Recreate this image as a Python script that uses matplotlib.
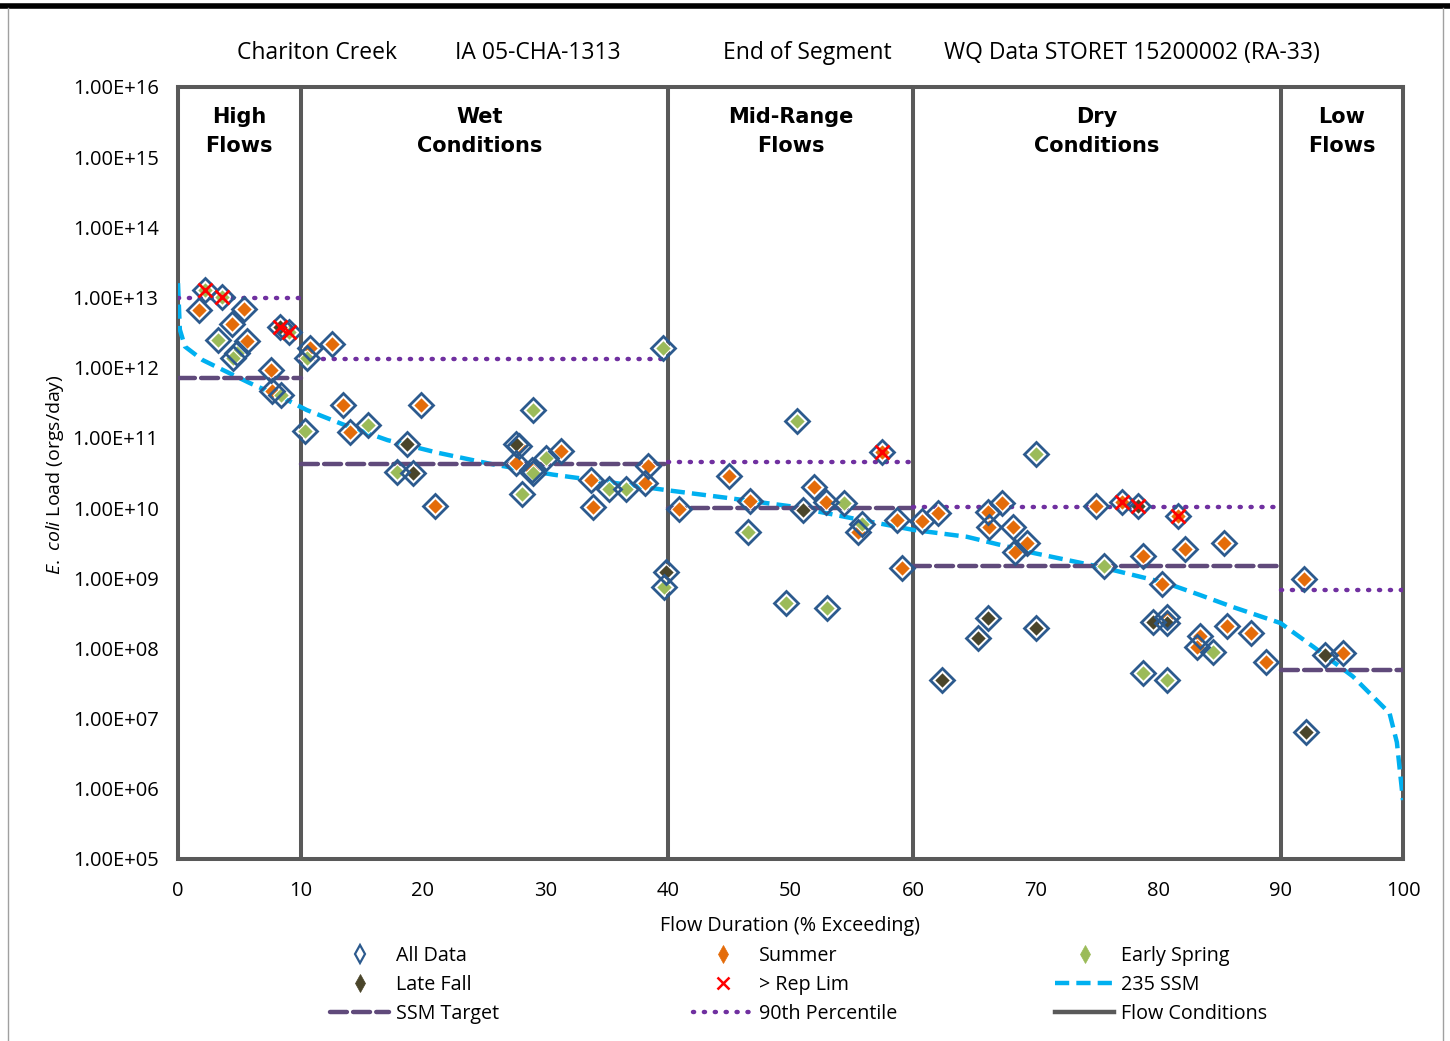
import matplotlib
matplotlib.use("Agg")
import matplotlib.pyplot as plt
from matplotlib.lines import Line2D
import numpy as np

plt.rcParams['font.family'] = ['Open Sans', 'DejaVu Sans']
plt.rcParams['mathtext.fontset'] = 'custom'
plt.rcParams['mathtext.it'] = 'Open Sans:italic'
plt.rcParams['mathtext.rm'] = 'Open Sans'

# ---------------- data ----------------
summer_x = [1.7, 5.4, 4.4, 5.6, 10.8, 12.6, 7.6, 7.7, 13.5, 14.0, 19.8, 21.0, 27.8, 27.6, 28.9,
            31.3, 33.7, 33.9, 38.1, 38.4, 40.9, 45.0, 46.7, 51.9, 52.9, 55.5, 58.7, 59.1, 57.5,
            60.7, 62.0, 66.1, 67.3, 66.2, 68.2, 69.3, 68.3, 74.9, 77.1, 81.6, 78.8, 82.2, 80.3,
            85.4, 80.7, 83.4, 83.2, 85.6, 87.6, 88.8, 91.9, 95.1]
summer_y = [6.6e12, 6.9e12, 4.2e12, 2.4e12, 1.9e12, 2.2e12, 9.3e11, 4.6e11, 2.9e11, 1.2e11, 2.9e11,
            1.07e10, 7.6e10, 4.4e10, 3.5e10, 6.5e10, 2.5e10, 1.05e10, 2.3e10, 4.0e10, 9.8e9, 2.9e10,
            1.26e10, 2.0e10, 1.23e10, 4.5e9, 6.8e9, 1.4e9, 6.2e10, 6.6e9, 8.5e9, 8.9e9, 1.17e10,
            5.4e9, 5.4e9, 3.2e9, 2.4e9, 1.07e10, 1.23e10, 7.8e9, 2.1e9, 2.6e9, 8.3e8, 3.2e9, 2.8e8,
            1.5e8, 1.05e8, 2.1e8, 1.66e8, 6.5e7, 9.8e8, 8.7e7]

spring_x = [2.2, 3.6, 3.3, 4.8, 4.5, 9.1, 10.5, 8.4, 10.4, 15.5, 17.9, 29.0, 39.6, 29.0, 30.0, 28.1,
            35.2, 36.6, 39.7, 50.5, 46.5, 54.4, 55.8, 49.6, 53.0, 70.0, 75.6, 84.5, 78.8, 80.7]
spring_y = [1.3e13, 1.02e13, 2.5e12, 1.6e12, 1.38e12, 3.2e12, 1.38e12, 4.1e11, 1.26e11, 1.55e11,
            3.3e10, 2.5e11, 1.9e12, 3.2e10, 5.1e10, 1.6e10, 1.86e10, 1.86e10, 7.6e8, 1.74e11, 4.6e9,
            1.17e10, 6.0e9, 4.5e8, 3.8e8, 5.9e10, 1.5e9, 8.9e7, 4.5e7, 3.5e7]

fall_x = [8.3, 18.7, 19.2, 27.6, 39.8, 51.0, 66.1, 65.3, 70.0, 62.4, 78.4, 79.6, 80.7, 93.6, 92.1]
fall_y = [3.8e12, 8.1e10, 3.2e10, 8.3e10, 1.23e9, 9.3e9, 2.75e8, 1.4e8, 1.95e8, 3.5e7, 1.07e10,
          2.4e8, 2.3e8, 8.1e7, 6.5e6]

replim_x = [2.2, 3.6, 8.3, 9.1, 57.5, 77.1, 78.4, 81.6]
replim_y = [1.3e13, 1.02e13, 3.8e12, 3.2e12, 6.2e10, 1.23e10, 1.07e10, 7.8e9]

ssm235_x = [0, 0.15, 0.57, 2.0, 4.0, 5.9, 8.6, 10.5, 13.5, 17.1, 21.1, 25.7, 30.6, 35.5, 39.9,
            44.8, 50.2, 55.7, 60.0, 64.4, 69.8, 75.3, 80.7, 83.4, 86.1, 90.0, 92.7, 95.9, 98.9,
            99.5, 100]
ssm235_y = [1.6e13, 3.5e12, 2.0e12, 1.29e12, 8.7e11, 6.0e11, 3.7e11, 2.5e11, 1.55e11, 9.3e10,
            6.2e10, 4.2e10, 3.0e10, 2.3e10, 1.8e10, 1.4e10, 1.05e10, 6.8e9, 4.9e9, 3.9e9, 2.3e9,
            1.45e9, 8.5e8, 5.8e8, 3.9e8, 2.3e8, 1.05e8, 4.0e7, 1.2e7, 4.6e6, 6.9e5]

zone_edges = [0, 10, 40, 60, 90, 100]
zone_names = ["High\nFlows", "Wet\nConditions", "Mid-Range\nFlows", "Dry\nConditions", "Low\nFlows"]
ssm_target = [7.1e11, 4.3e10, 1.0e10, 1.5e9, 5.0e7]
pct90 = [1.0e13, 1.35e12, 4.6e10, 1.05e10, 6.8e8]

xticks = [0, 10, 20, 30, 40, 50, 60, 70, 80, 90, 100]
yticks = [1e5, 1e6, 1e7, 1e8, 1e9, 1e10, 1e11, 1e12, 1e13, 1e14, 1e15, 1e16]
ytick_labels = ["1.00E+05", "1.00E+06", "1.00E+07", "1.00E+08", "1.00E+09", "1.00E+10",
                "1.00E+11", "1.00E+12", "1.00E+13", "1.00E+14", "1.00E+15", "1.00E+16"]

title_parts = ["Chariton Creek", "IA 05-CHA-1313", "End of Segment", "WQ Data STORET 15200002 (RA-33)"]

# ---------------- colours ----------------
C_SUMMER = '#E46C0A'
C_SPRING = '#9BBB59'
C_FALL = '#4A452A'
C_ALL = '#2C5A8E'
C_SSM = '#00B0F0'
C_TARGET = '#604A7B'
C_P90 = '#7030A0'
C_FLOW = '#595959'

DASH_T = (0, (3.8, 1.4))
DASH_S = (0, (3.2, 1.6))
DOT_P = (0, (0.25, 2.2))

W, H = 1450, 1041
fig = plt.figure(figsize=(W / 100, H / 100), dpi=100)
ax = fig.add_axes([178 / W, 1 - 859 / H, 1225 / W, 772 / H])
ax.set_yscale('log')
ax.set_xlim(0, 100)
ax.set_ylim(1e5, 1e16)

# 235 SSM curve
ax.plot(ssm235_x, ssm235_y, color=C_SSM, lw=3.2, ls=DASH_S, zorder=3)

# SSM Target and 90th percentile per zone
for i in range(len(zone_names)):
    x0, x1 = zone_edges[i], zone_edges[i + 1]
    ax.plot([x0, x1], [ssm_target[i], ssm_target[i]], color=C_TARGET, lw=3.2,
            ls=DASH_T, zorder=3, dash_capstyle='round')
    ax.plot([x0, x1], [pct90[i], pct90[i]], color=C_P90, lw=3.2,
            ls=DOT_P, dash_capstyle='round', zorder=3)

# flow condition lines
for xe in zone_edges[1:-1]:
    ax.plot([xe, xe], [1e5, 1e16], color=C_FLOW, lw=2.9, zorder=2)
for sp in ax.spines.values():
    sp.set_color(C_FLOW)
    sp.set_linewidth(2.9)

# seasonal points
ax.plot(summer_x, summer_y, ls='none', marker='D', ms=8.3, mfc=C_SUMMER, mec='white', mew=0.8, zorder=4)
ax.plot(spring_x, spring_y, ls='none', marker='D', ms=8.3, mfc=C_SPRING, mec='white', mew=0.8, zorder=4)
ax.plot(fall_x, fall_y, ls='none', marker='D', ms=8.3, mfc=C_FALL, mec='white', mew=0.8, zorder=4)
all_x = summer_x + spring_x + fall_x
all_y = summer_y + spring_y + fall_y
ax.plot(all_x, all_y, ls='none', marker='D', ms=12.5, mfc='none', mec=C_ALL, mew=2.0, zorder=5)
ax.plot(replim_x, replim_y, ls='none', marker='x', ms=9.5, mec='#FF0000', mew=2.0, zorder=6)

# zone labels
for i, name in enumerate(zone_names):
    xc = (zone_edges[i] + zone_edges[i + 1]) / 2
    if i == 1:
        xc = 24.6
    ax.text(xc, (859 - 107) / 772, name, transform=ax.get_xaxis_transform(), ha='center', va='top',
            fontsize=15, fontweight='bold', family='DejaVu Sans', linespacing=1.55, color='black')

# ticks
ax.set_xticks(xticks)
ax.set_xticklabels([str(v) for v in xticks])
ax.set_yticks(yticks)
ax.set_yticklabels(ytick_labels)
ax.minorticks_off()
ax.tick_params(axis='both', length=0, labelsize=14.5, colors='black')
ax.tick_params(axis='x', pad=16)
ax.tick_params(axis='y', pad=14)

ax.set_xlabel("Flow Duration (% Exceeding)", fontsize=14.2, labelpad=11)
fig.text(55 / W, 1 - 475 / H, r"$\it{E.\ coli}$ Load (orgs/day)", rotation=90, ha='center',
         va='center', fontsize=14)

# title parts
title_x = [237, 455, 723, 944]
for tx, tt in zip(title_x, title_parts):
    fig.text(tx / W, 1 - 53 / H, tt, ha='left', va='center', fontsize=16.5)

# outer frame decorations
fig.add_artist(Line2D([0, 1], [1 - 5.5 / H, 1 - 5.5 / H], transform=fig.transFigure, color='black', lw=4))
fig.add_artist(Line2D([8 / W, 8 / W], [0, 1 - 8 / H], transform=fig.transFigure, color='#A0A0A0', lw=1))
fig.add_artist(Line2D([1443 / W, 1443 / W], [0, 1 - 8 / H], transform=fig.transFigure, color='#A0A0A0', lw=1))

# legend (3 columns placed separately)
def mk(marker, fc, ec, ms=9, mew=1.5):
    return Line2D([], [], ls='none', marker=marker, ms=ms, mfc=fc, mec=ec, mew=mew)

h_all = mk('d', 'none', C_ALL, ms=9, mew=1.6)
h_sum = mk('d', C_SUMMER, C_SUMMER, ms=9, mew=0.5)
h_spr = mk('d', C_SPRING, C_SPRING, ms=9, mew=0.5)
h_fall = mk('d', C_FALL, C_FALL, ms=9, mew=0.5)
h_rep = mk('x', 'none', '#FF0000', ms=9, mew=1.8)
h_ssm = Line2D([], [], color=C_SSM, lw=3.2, ls=DASH_S)
h_tgt = Line2D([], [], color=C_TARGET, lw=3.2, ls=DASH_T, dash_capstyle='round')
h_p90 = Line2D([], [], color=C_P90, lw=3.2, ls=DOT_P, dash_capstyle='round')
h_flow = Line2D([], [], color=C_FLOW, lw=3.2)

cols = [([h_all, h_fall, h_tgt], ["All Data", "Late Fall", "SSM Target"], 330),
        ([h_sum, h_rep, h_p90], ["Summer", "> Rep Lim", "90th Percentile"], 693),
        ([h_spr, h_ssm, h_flow], ["Early Spring", "235 SSM", "Flow Conditions"], 1055)]
for hs, ls_, x0 in cols:
    leg = fig.legend(hs, ls_, loc='upper left', bbox_to_anchor=(x0 / W, 1 - 946 / H),
                     frameon=False, fontsize=14.2, handlelength=3.0, handletextpad=0.35,
                     labelspacing=0.45, borderpad=0, borderaxespad=0, numpoints=1)

fig.savefig("out.png", dpi=100)
